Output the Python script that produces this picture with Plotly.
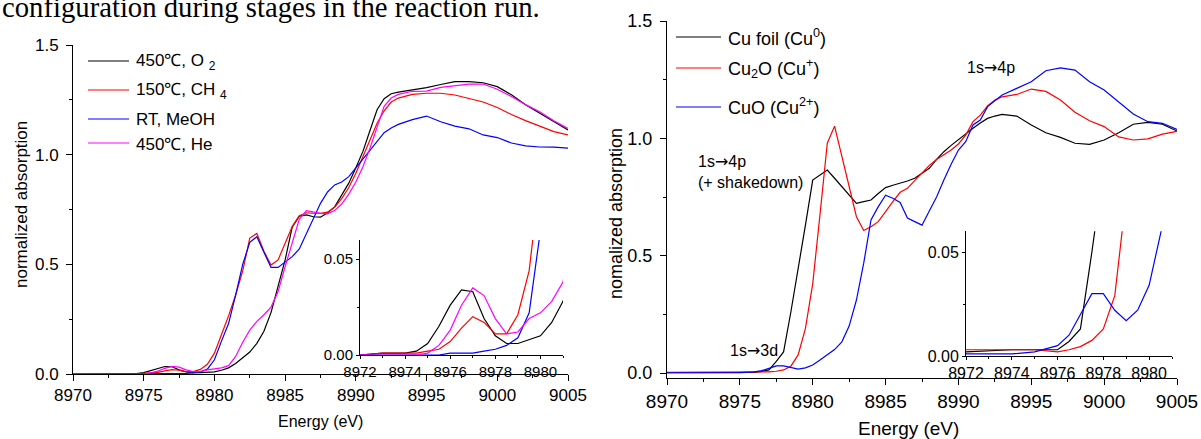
import plotly.graph_objects as go

W, H = 1201, 439

# ---- left panel: catalyst under reaction conditions ----
e_left = [8970, 8971, 8972, 8973, 8974,
          8974.5, 8975, 8975.5, 8976, 8976.5, 8977, 8977.5, 8978, 8978.5, 8979, 8979.5,
          8980, 8980.5, 8981, 8981.5, 8982, 8982.5, 8983, 8983.5, 8984, 8984.5,
          8985, 8985.5, 8986, 8986.5, 8987, 8987.5, 8988, 8988.5, 8989, 8989.5,
          8990, 8990.5, 8991, 8991.5, 8992, 8992.5, 8993,
          8994, 8995, 8996, 8997, 8998, 8999, 9000, 9001, 9002, 9003, 9004, 9005]

o2 = [0.000, 0.001, 0.000, 0.001, 0.001,
      0.002, 0.006, 0.015, 0.026, 0.034, 0.033, 0.019, 0.010, 0.006, 0.006, 0.008,
      0.010, 0.017, 0.028, 0.048, 0.075, 0.100, 0.140, 0.195, 0.280, 0.395,
      0.520, 0.670, 0.720, 0.725, 0.717, 0.715, 0.735, 0.762, 0.815, 0.870,
      0.940, 1.015, 1.110, 1.205, 1.255, 1.278, 1.285,
      1.295, 1.306, 1.320, 1.333, 1.333, 1.328, 1.310, 1.273, 1.228, 1.189, 1.150, 1.113]

ch4 = [0.000, 0.001, 0.000, 0.001, 0.001,
       0.001, 0.002, 0.003, 0.007, 0.014, 0.020, 0.017, 0.011, 0.011, 0.021, 0.044,
       0.095, 0.180, 0.265, 0.360, 0.470, 0.620, 0.641, 0.560, 0.497, 0.520,
       0.600, 0.672, 0.722, 0.735, 0.733, 0.733, 0.738, 0.760, 0.800, 0.850,
       0.915, 0.990, 1.070, 1.143, 1.200, 1.240, 1.258,
       1.275, 1.280, 1.280, 1.272, 1.257, 1.240, 1.215, 1.183, 1.155, 1.130, 1.105, 1.090]

meoh = [0.000, 0.000, 0.000, 0.000, 0.000,
        0.000, 0.000, 0.000, 0.001, 0.001, 0.001, 0.002, 0.003, 0.005, 0.009, 0.022,
        0.065, 0.150, 0.230, 0.360, 0.500, 0.600, 0.626, 0.555, 0.486, 0.486,
        0.510, 0.535, 0.570, 0.640, 0.715, 0.778, 0.830, 0.862, 0.875, 0.900,
        0.940, 0.980, 1.021, 1.062, 1.100, 1.122, 1.138,
        1.160, 1.176, 1.150, 1.130, 1.118, 1.090, 1.078, 1.053, 1.040, 1.035, 1.034, 1.030]

he = [0.000, 0.001, 0.000, 0.000, 0.000,
      0.000, 0.001, 0.005, 0.013, 0.026, 0.035, 0.031, 0.019, 0.011, 0.012, 0.019,
      0.022, 0.028, 0.038, 0.080, 0.145, 0.200, 0.240, 0.270, 0.305, 0.375,
      0.490, 0.600, 0.705, 0.745, 0.738, 0.732, 0.730, 0.745, 0.775, 0.820,
      0.875, 0.945, 1.030, 1.128, 1.220, 1.258, 1.275,
      1.289, 1.290, 1.307, 1.313, 1.322, 1.322, 1.298, 1.265, 1.228, 1.196, 1.155, 1.120]

left_names = ["450℃, O <sub>2</sub>", "150℃, CH <sub>4</sub>", "RT, MeOH", "450℃, He"]
left_series = [o2, ch4, meoh, he]

# ---- right panel: reference compounds ----
e_ref = [8970, 8972, 8974, 8975,
         8976, 8976.5, 8977, 8977.5, 8978, 8978.5, 8979, 8979.5,
         8980, 8980.5, 8981, 8981.5, 8982, 8982.5, 8983, 8983.5, 8984, 8984.5,
         8985, 8985.5, 8986, 8986.5, 8987, 8987.5, 8988, 8988.5, 8989, 8989.5,
         8990, 8990.5, 8991, 8991.5, 8992, 8992.5, 8993,
         8994, 8995, 8996, 8997, 8998, 8999, 9000, 9001, 9002, 9003, 9004, 9005]

cu_foil = [0.002, 0.002, 0.003, 0.003,
           0.003, 0.007, 0.013, 0.050, 0.090, 0.260, 0.440, 0.630,
           0.822, 0.845, 0.865, 0.830, 0.794, 0.757, 0.723, 0.730, 0.737, 0.765,
           0.790, 0.800, 0.808, 0.818, 0.830, 0.850, 0.872, 0.910, 0.943, 0.970,
           0.995, 1.020, 1.043, 1.065, 1.085, 1.095, 1.102,
           1.095, 1.057, 1.024, 1.004, 0.979, 0.974, 0.993, 1.024, 1.060, 1.068, 1.060, 1.031]

cu2o = [0.003, 0.003, 0.003, 0.003,
        0.002, 0.003, 0.0045, 0.0075, 0.013, 0.029, 0.077, 0.190,
        0.380, 0.675, 0.979, 1.052, 0.920, 0.794, 0.666, 0.607, 0.623, 0.645,
        0.690, 0.730, 0.770, 0.787, 0.820, 0.851, 0.885, 0.910, 0.930, 0.950,
        0.976, 1.014, 1.071, 1.099, 1.138, 1.163, 1.177,
        1.187, 1.210, 1.200, 1.163, 1.111, 1.075, 1.050, 1.006, 0.993, 0.998, 1.018, 1.030]

cuo = [0.001, 0.001, 0.001, 0.002,
       0.005, 0.010, 0.020, 0.030, 0.030, 0.022, 0.017, 0.022,
       0.034, 0.055, 0.077, 0.100, 0.133, 0.200, 0.311, 0.468, 0.652, 0.709,
       0.758, 0.745, 0.727, 0.660, 0.645, 0.630, 0.690, 0.750, 0.822, 0.890,
       0.950, 0.986, 1.057, 1.078, 1.135, 1.160, 1.185,
       1.213, 1.241, 1.288, 1.300, 1.291, 1.241, 1.206, 1.156, 1.104, 1.071, 1.064, 1.038]

ref_names = ["Cu foil (Cu<sup>0</sup>)", "Cu<sub>2</sub>O (Cu<sup>+</sup>)", "CuO (Cu<sup>2+</sup>)"]
ref_series = [cu_foil, cu2o, cuo]

left_colors = ["#000000", "#ff0000", "#0000ff", "#ff00ff"]
ref_colors = ["#000000", "#ff0000", "#0000ff"]

FONT = "Arial, 'Liberation Sans', sans-serif"
ARROW = "<span style='font-family:DejaVu Sans'>→</span>"


def fx(p):
    return p / W


def fy(p):
    return 1 - p / H


fig = go.Figure()

# main + inset share the same data
for ys, c in zip(left_series, left_colors):
    for xa, ya in (("x", "y"), ("x2", "y2")):
        fig.add_trace(go.Scatter(x=e_left, y=ys, mode="lines", xaxis=xa, yaxis=ya,
                                 line=dict(color=c, width=1.2), showlegend=False))
for ys, c in zip(ref_series, ref_colors):
    for xa, ya in (("x3", "y3"), ("x4", "y4")):
        fig.add_trace(go.Scatter(x=e_ref, y=ys, mode="lines", xaxis=xa, yaxis=ya,
                                 line=dict(color=c, width=1.2), showlegend=False))


def ax(domain, rng, anchor, dtick, minor, size, ticklen=6, fmt=None, standoff=None):
    d = dict(domain=domain, range=rng, anchor=anchor, dtick=dtick, tick0=rng[0] if dtick >= 1 else 0,
             ticks="outside", ticklen=ticklen, tickwidth=1, tickcolor="black", automargin=False,
             minor=dict(dtick=minor, ticks="outside", ticklen=max(2, ticklen // 2), tickcolor="black"),
             showline=True, linecolor="black", linewidth=1, showgrid=False, zeroline=False,
             tickfont=dict(family=FONT, size=size, color="black"))
    if fmt:
        d["tickformat"] = fmt
    if standoff is not None:
        d["ticklabelstandoff"] = standoff
    return d


fig.update_layout(
    template="none",
    width=W, height=H, margin=dict(l=0, r=0, t=0, b=0, pad=0),
    paper_bgcolor="white", plot_bgcolor="rgba(0,0,0,0)",
    xaxis=ax([fx(73), fx(568)], [8970, 9005], "y", 5, 2.5, 17),
    yaxis=ax([fy(374), fy(45)], [0, 1.5], "x", 0.5, 0.25, 17, fmt=".1f", standoff=4),
    xaxis2=ax([fx(360), fx(563)], [8972, 8981], "y2", 2, 1, 15, ticklen=3),
    yaxis2=ax([fy(355), fy(240)], [0, 0.06], "x2", 0.05, 0.025, 15, ticklen=3, fmt=".2f"),
    xaxis3=ax([fx(667), fx(1177)], [8970, 9005], "y3", 5, 2.5, 19),
    yaxis3=ax([fy(377.7), fy(21)], [-0.02, 1.5], "x3", 0.5, 0.25, 18, fmt=".1f", standoff=4),
    xaxis4=ax([fx(966), fx(1172)], [8972, 8981], "y4", 2, 1, 16, ticklen=3),
    yaxis4=ax([fy(356), fy(231.2)], [0, 0.06], "x4", 0.05, 0.025, 16, ticklen=3, fmt=".2f"),
)

ann = []
shapes = []


def note(text, x, y, size, xanchor="center", yanchor="middle", **kw):
    return dict(text=text, x=fx(x), y=fy(y), xref="paper", yref="paper",
                xanchor=xanchor, yanchor=yanchor, showarrow=False,
                font=dict(family=kw.pop("family", FONT), size=size, color="black"), **kw)


# manual legends (line sample + label)
for name, c, row in zip(left_names, left_colors, [61, 90, 119, 143]):
    shapes.append(dict(type="line", xref="paper", yref="paper", x0=fx(88), x1=fx(129),
                       y0=fy(row), y1=fy(row), line=dict(color=c, width=1.2)))
    ann.append(note(name, 134, row + 1, 17, xanchor="left"))
for name, c, row in zip(ref_names, ref_colors, [37, 68, 107]):
    shapes.append(dict(type="line", xref="paper", yref="paper", x0=fx(676), x1=fx(721),
                       y0=fy(row), y1=fy(row), line=dict(color=c, width=1.2)))
    ann.append(note(name, 726, row, 18, xanchor="left"))

# axis titles
ann += [
    note("Energy (eV)", 320, 421, 16),
    note("Energy (eV)", 908, 428, 19),
    note("normalized absorption", 21, 205, 17, textangle=-90),
    note("nomalized absorption", 616, 214, 18, textangle=-90),
]

# transition labels in the reference panel
lab = dict(family=FONT, size=16, color="black")
ann += [
    dict(text="1s" + ARROW + "4p<br>(+ shakedown)", x=8972.0, y=0.86, xref="x3", yref="y3",
         align="left", xanchor="left", yanchor="middle", showarrow=False, font=lab),
    dict(text="1s" + ARROW + "3d", x=8974.2, y=0.098, xref="x3", yref="y3",
         xanchor="left", yanchor="middle", showarrow=False, font=lab),
    dict(text="1s" + ARROW + "4p", x=8990.45, y=1.30, xref="x3", yref="y3",
         xanchor="left", yanchor="middle", showarrow=False, font=lab),
]

# tail of the page caption above the figure, cut at the top edge
ann.append(note("configuration during stages in the reaction run.", 0, 25, 28.7,
                xanchor="left", yanchor="bottom",
                family="'Liberation Serif', 'Times New Roman', serif"))

fig.update_layout(annotations=ann, shapes=shapes)

# the page's default body margin would push the figure 8px off
fig.write_html("out.html", config={"displayModeBar": False},
               post_script="document.body.style.margin='0';document.body.style.overflow='hidden';")
